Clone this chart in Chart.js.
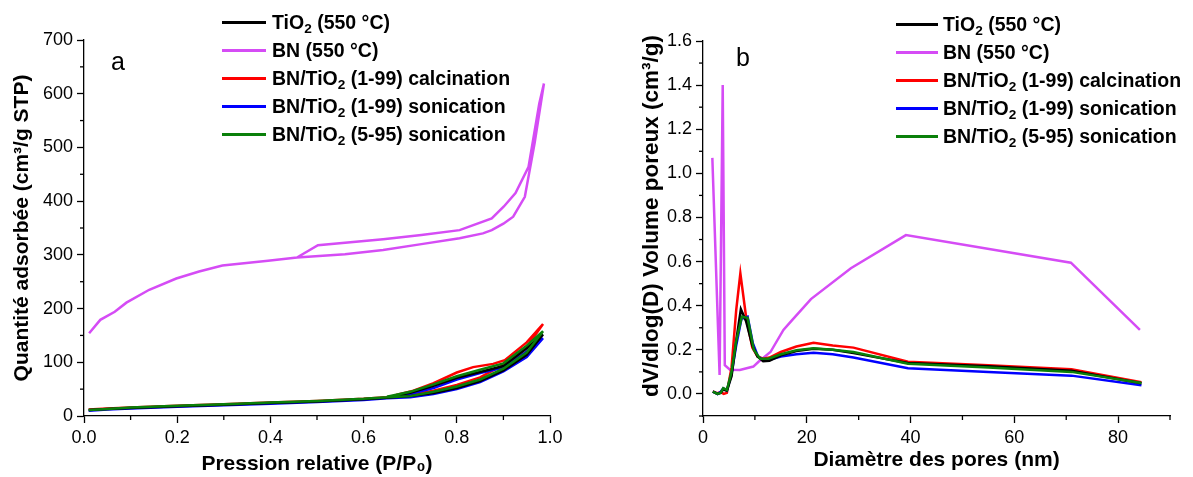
<!DOCTYPE html>
<html>
<head>
<meta charset="utf-8">
<script src="https://cdn.jsdelivr.net/npm/chart.js@4.4.0/dist/chart.umd.min.js"></script>
<style>
  body { margin: 0; background: #fff; width: 1193px; height: 477px; overflow: hidden; position: relative; font-family: "Liberation Sans", Arial, sans-serif; }
  canvas { position: absolute; top: 0; }
  #chartA { left: 0; }
  #chartB { left: 597px; }
  .leg { position: absolute; font-weight: bold; font-size: 19.5px; color: #000; white-space: nowrap; }
  .leg div { height: 28px; display: flex; align-items: center; }
  .leg .ln { display: inline-block; width: 44px; height: 3px; margin-right: 6px; }
  #legB .ln { width: 42px; margin-right: 5px; }
  .leg sub { font-size: 0.7em; vertical-align: -0.3em; line-height: 0; }
  .tag { position: absolute; font-size: 25px; line-height: 25px; color: #000; }
</style>
</head>
<body>
<canvas id="chartA" width="597" height="477"></canvas>
<canvas id="chartB" width="596" height="477"></canvas>
<div class="tag" style="left:111px;top:49px">a</div>
<div class="tag" style="left:736px;top:45px">b</div>
<div class="leg" id="legA" style="left:222px;top:8px"></div>
<div class="leg" id="legB" style="left:896px;top:10px"></div>
<script>
// noms des échantillons et couleurs
const names = ['TiO<sub>2</sub> (550 °C)', 'BN (550 °C)', 'BN/TiO<sub>2</sub> (1-99) calcination',
  'BN/TiO<sub>2</sub> (1-99) sonication', 'BN/TiO<sub>2</sub> (5-95) sonication']
const colors = ['#000000', '#D54CF5', '#FF0000', '#0000FF', '#0A800A']
const drawOrder = [2, 5, 4, 3, 1] // le vert dessiné au-dessus

// graphe a : isothermes (adsorption puis désorption), [P/P0, quantité]
const isoTiO2 = [[0.01,11],[0.05,13],[0.1,15],[0.2,18],[0.3,21],[0.4,24],[0.5,27],[0.6,31],[0.65,34],[0.7,37],
  [0.75,43],[0.8,52],[0.85,65],[0.9,85],[0.95,114],[0.985,152],[0.95,126],[0.9,93],[0.85,82],[0.8,71],[0.75,56],[0.7,43],[0.65,35]]
const isoBN = [[0.011,154],[0.035,179],[0.066,194],[0.091,211],[0.14,235],[0.198,256],[0.247,269],[0.297,280],[0.395,289],
  [0.457,295],[0.56,301],[0.642,309],[0.724,320],[0.806,331],[0.856,340],[0.875,346],[0.9,358],[0.921,371],[0.946,408],
  [0.967,508],[0.987,619],[0.977,582],[0.954,464],[0.926,415],[0.901,390],[0.875,368],[0.806,346],[0.724,337],[0.642,329],
  [0.502,318],[0.457,295]]
const isoCalc199 = [[0.01,12],[0.05,14],[0.1,16],[0.2,19],[0.3,22],[0.4,25],[0.5,28],[0.6,32],[0.65,35],[0.7,39],
  [0.75,47],[0.8,58],[0.85,72],[0.9,95],[0.95,128],[0.985,171],[0.95,137],[0.903,104],[0.878,97],[0.835,91],[0.8,81],
  [0.75,61],[0.707,47],[0.67,39]]
const isoSon199 = [[0.01,10],[0.05,12],[0.1,14],[0.2,17],[0.3,20],[0.4,23],[0.5,26],[0.6,30],[0.65,33],[0.7,35],
  [0.75,41],[0.8,50],[0.85,63],[0.9,83],[0.95,110],[0.985,145],[0.95,120],[0.9,90],[0.85,80],[0.8,68],[0.75,52],[0.7,41],[0.65,34]]
const isoSon595 = [[0.01,11],[0.05,13],[0.1,16],[0.2,19],[0.3,22],[0.4,25],[0.5,28],[0.6,32],[0.65,35],[0.7,37],
  [0.75,45],[0.8,55],[0.85,68],[0.9,88],[0.95,118],[0.985,158],[0.95,131],[0.9,98],[0.85,86],[0.8,74],[0.75,59],[0.7,45],[0.65,36]]

// graphe b : distribution BJH, [diamètre nm, dV/dlog(D)]
const poreTiO2 = [[1.9,0.01],[2.8,0.0],[3.4,0.005],[3.9,0.02],[4.6,0.015],[5.5,0.08],[6.4,0.24],[7.3,0.384],[8.3,0.33],
  [9.5,0.22],[10.5,0.17],[11.6,0.148],[12.8,0.15],[15,0.175],[18,0.195],[21.3,0.205],[25,0.2],[29,0.185],[39.5,0.14],
  [55,0.125],[71,0.105],[84.5,0.048]]
const poreBN = [[1.8,1.07],[3.2,0.086],[3.8,1.40],[4.2,0.13],[5.2,0.11],[7.1,0.109],[9.7,0.124],[10.7,0.146],[13,0.19],
  [15.5,0.29],[17,0.33],[20.8,0.43],[28.5,0.57],[39.1,0.72],[70.9,0.595],[84.2,0.29]]
const poreCalc199 = [[1.9,0.012],[2.8,0.003],[3.4,0.008],[4.0,0.0],[4.6,0.005],[5.5,0.12],[6.4,0.38],[7.2,0.547],[8.3,0.35],
  [9.5,0.21],[10.5,0.17],[11.6,0.16],[12.8,0.165],[15,0.19],[18,0.215],[21.3,0.232],[25,0.22],[29,0.21],[39.5,0.146],
  [55,0.13],[71,0.112],[84.5,0.053]]
const poreSon199 = [[1.9,0.01],[2.8,0.0],[3.4,0.01],[3.9,0.025],[4.6,0.015],[5.5,0.09],[6.4,0.22],[7.4,0.34],[8.6,0.35],
  [9.6,0.23],[10.6,0.17],[11.6,0.155],[12.8,0.155],[15,0.17],[18,0.18],[21.3,0.187],[25,0.18],[29,0.165],[39.5,0.117],
  [55,0.1],[71,0.083],[84.5,0.039]]
const poreSon595 = [[1.9,0.01],[2.8,0.0],[3.4,0.005],[3.9,0.026],[4.6,0.018],[5.5,0.1],[6.4,0.24],[7.5,0.35],[8.6,0.345],
  [9.8,0.2],[11,0.16],[12.6,0.16],[15,0.18],[18,0.198],[21.3,0.207],[25,0.2],[29,0.19],[39.5,0.137],[55,0.12],
  [71,0.10],[84.5,0.05]]

// graduations
const xTicksA = [0, 0.2, 0.4, 0.6, 0.8, 1.0]
const xMinorA = [0.1, 0.3, 0.5, 0.7, 0.9]
const yTicksA = [0, 100, 200, 300, 400, 500, 600, 700]
const yMinorA = [50, 150, 250, 350, 450, 550, 650]
const xTicksB = [0, 20, 40, 60, 80]
const xMinorB = [10, 30, 50, 70, 90]
const yTicksB = [0, 0.2, 0.4, 0.6, 0.8, 1.0, 1.2, 1.4, 1.6]
const yMinorB = [-0.1, 0.1, 0.3, 0.5, 0.7, 0.9, 1.1, 1.3, 1.5]

const tickFont = { family: 'Liberation Sans', size: 18 }
const titleFont = { family: 'Liberation Sans', size: 21, weight: 'bold' }
const titleFontB = { family: 'Liberation Sans', size: 22.5, weight: 'bold' }

// petites graduations dessinées avec les échelles du graphe
const minorTicks = {
  id: 'minorTicks',
  afterDraw(chart, args, opts) {
    const ctx = chart.ctx
    ctx.save()
    ctx.strokeStyle = '#000'
    ctx.lineWidth = 1.3
    const sx = chart.scales.x, sy = chart.scales.y
    opts.x.forEach(v => {
      const p = sx.getPixelForValue(v)
      ctx.beginPath(); ctx.moveTo(p, sx.top); ctx.lineTo(p, sx.top + 4); ctx.stroke()
    })
    opts.y.forEach(v => {
      const p = sy.getPixelForValue(v)
      ctx.beginPath(); ctx.moveTo(sy.right, p); ctx.lineTo(sy.right - 4, p); ctx.stroke()
    })
    ctx.restore()
  }
}

function makeDatasets(series) {
  return series.map((s, i) => ({
    label: names[i].replace(/<sub>2<\/sub>/g, '₂'),
    data: s.map(p => ({ x: p[0], y: p[1] })),
    borderColor: colors[i],
    backgroundColor: colors[i],
    borderWidth: 2.5,
    pointRadius: 0,
    showLine: true,
    tension: 0,
    order: drawOrder[i]
  }))
}

function makeScale(min, max, ticks, digits, title, fit, titlePad, tFont) {
  return {
    type: 'linear', min: min, max: max,
    afterBuildTicks: s => { s.ticks = ticks.map(v => ({ value: v })) },
    afterFit: fit,
    ticks: { font: tickFont, color: '#000', padding: 4, maxRotation: 0, autoSkip: false,
      callback: v => Number(v).toFixed(digits) },
    grid: { drawOnChartArea: false, tickLength: 7, tickWidth: 1.3, tickColor: '#000' },
    border: { color: '#000', width: 1.3 },
    title: { display: true, text: title, font: tFont || titleFont, color: '#000', padding: titlePad }
  }
}

function makeChart(canvas, series, pad, scales, minor) {
  return new Chart(canvas, {
    type: 'scatter',
    data: { datasets: makeDatasets(series) },
    options: {
      responsive: false, animation: false,
      layout: { padding: pad },
      plugins: { legend: { display: false }, tooltip: { enabled: false }, minorTicks: minor },
      scales: scales
    },
    plugins: [minorTicks]
  })
}

makeChart(document.getElementById('chartA'),
  [isoTiO2, isoBN, isoCalc199, isoSon199, isoSon595],
  { top: 40, right: 47, left: 0, bottom: 0 },
  {
    x: makeScale(0, 1, xTicksA, 1, 'Pression relative (P/P₀)', s => { s.height = 61 }, { top: 0, bottom: 0 }),
    y: makeScale(0, 700, yTicksA, 0, 'Quantité adsorbée (cm³/g STP)', s => { s.width = 84 }, { top: 10, bottom: 0 })
  },
  { x: xMinorA, y: yMinorA })

makeChart(document.getElementById('chartB'),
  [poreTiO2, poreBN, poreCalc199, poreSon199, poreSon595],
  { top: 41, right: 23, left: 0, bottom: 0 },
  {
    x: makeScale(0, 90, xTicksB, 0, 'Diamètre des pores (nm)', s => { s.height = 61 }, { top: 0, bottom: 4 }),
    y: makeScale(-0.1, 1.6, yTicksB, 1, '    dV/dlog(D) Volume poreux (cm³/g)', s => { s.width = 106 },
      { top: 41, bottom: 0 }, titleFontB)
  },
  { x: xMinorB, y: yMinorB })

// légendes HTML (indices en vrai texte)
function buildLegend(id) {
  const box = document.getElementById(id)
  names.forEach((n, i) => {
    const row = document.createElement('div')
    row.innerHTML = '<span class="ln" style="background:' + colors[i] + '"></span><span>' + n + '</span>'
    box.appendChild(row)
  })
}
buildLegend('legA')
buildLegend('legB')
</script>
</body>
</html>
